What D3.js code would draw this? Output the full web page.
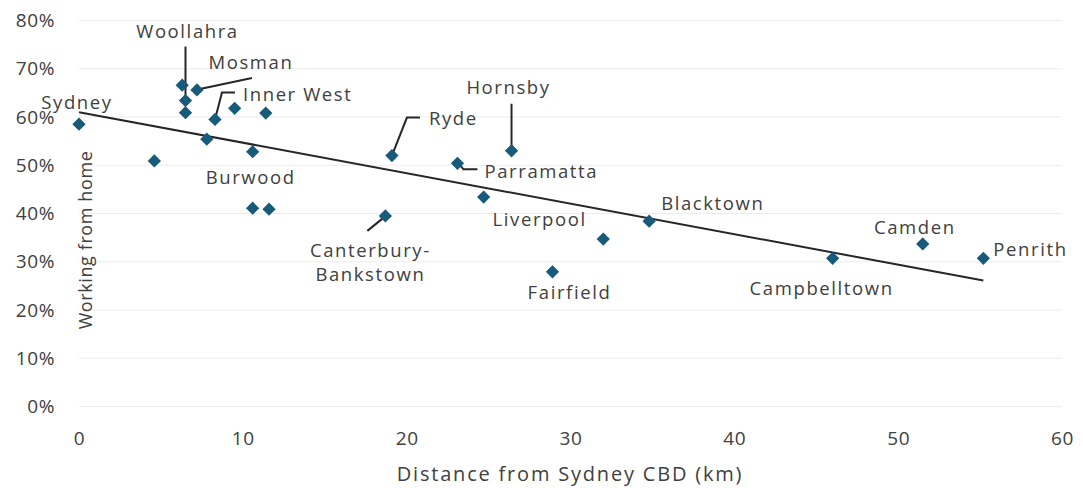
<!DOCTYPE html>
<html>
<head>
<meta charset="utf-8">
<script src="https://cdn.jsdelivr.net/npm/d3@7"></script>
<style>
  body { margin: 0; background: #fff; }
  svg text { font-family: "Open Sans", Lato, sans-serif; fill: #404040; }
  .axis .domain { display: none; }
  .axis line { stroke: #ececec; }
</style>
</head>
<body>
<div id="chart"></div>
<script>
// council areas, distance from CBD (km) and share working from home (%)
const areaNames = ['Sydney', '', '', 'Woollahra', '', 'Mosman', '', '', 'Inner West', '',
  'Burwood', '', '', 'Canterbury-Bankstown', 'Ryde', 'Parramatta', 'Hornsby', 'Liverpool',
  '', 'Fairfield', 'Blacktown', 'Campbelltown', 'Camden', 'Penrith'];
const distanceKm = [0, 4.6, 6.3, 6.5, 6.5, 7.2, 9.5, 11.4, 8.3, 7.8,
  10.6, 10.6, 11.6, 18.7, 19.1, 23.1, 26.4, 24.7,
  32.0, 28.9, 34.8, 46.0, 51.5, 55.2];
const wfhPct = [58.4, 50.8, 66.5, 63.3, 60.8, 65.5, 61.7, 60.7, 59.4, 55.3,
  52.7, 41.0, 40.8, 39.4, 51.9, 50.3, 52.9, 43.3,
  34.6, 27.8, 38.3, 30.6, 33.6, 30.6];
// trend line (start and end)
const trendKm = [0, 55.2];
const trendPct = [60.9, 26.0];
const yTicks = [0, 10, 20, 30, 40, 50, 60, 70, 80];
const xTicks = [0, 10, 20, 30, 40, 50, 60];

// label placement, pixel offsets from the marker
const labelLayout = {
  'Sydney':       { dx: -2, dy: -23, anchor: 'middle' },
  'Woollahra':    { dx: 2, dy: -70, anchor: 'middle', lead: [[0, -54], [0, -2]] },
  'Mosman':       { dx: 54, dy: -28, anchor: 'middle', lead: [[3, -1], [55, -12]] },
  'Inner West':   { dx: 28, dy: -26, anchor: 'start', lead: [[0, 0], [7, -27], [20, -27]] },
  'Burwood':      { dx: -2, dy: 25, anchor: 'middle' },
  'Canterbury-Bankstown': { dx: -15, dy: 33, anchor: 'middle', lead: [[-18, 15], [-2, 2]] },
  'Ryde':         { dx: 37, dy: -38, anchor: 'start', lead: [[0, 0], [15, -38], [28, -38]] },
  'Parramatta':   { dx: 27, dy: 7, anchor: 'start', lead: [[2, 1], [6, 6], [20, 6]] },
  'Hornsby':      { dx: -3, dy: -64, anchor: 'middle', lead: [[0, -47], [0, -3]] },
  'Liverpool':    { dx: 56, dy: 21, anchor: 'middle' },
  'Fairfield':    { dx: 17, dy: 20, anchor: 'middle' },
  'Blacktown':    { dx: 12, dy: -19, anchor: 'start' },
  'Campbelltown': { dx: -11, dy: 29, anchor: 'middle' },
  'Camden':       { dx: -8, dy: -17, anchor: 'middle' },
  'Penrith':      { dx: 10, dy: -10, anchor: 'start' }
};

const width = 1083, height = 488;
const svg = d3.select('#chart').append('svg')
  .attr('width', width).attr('height', height);

const x = d3.scaleLinear().domain([0, 60]).range([79, 1062]);
const y = d3.scaleLinear().domain([0, 80]).range([406, 20]);

// gridlines + y labels
const yAxis = svg.append('g')
  .attr('class', 'axis')
  .attr('transform', `translate(${x(0)},0)`)
  .call(d3.axisLeft(y).tickValues(yTicks).tickFormat(d => d + '%')
    .tickSize(-(x(60) - x(0))).tickPadding(24));
yAxis.selectAll('text')
  .attr('font-size', 19).attr('letter-spacing', 0.6)
  .attr('dy', '0.35em');

const xAxis = svg.append('g')
  .attr('class', 'axis')
  .attr('transform', `translate(0,${y(0)})`)
  .call(d3.axisBottom(x).tickValues(xTicks).tickSize(0).tickPadding(26));
xAxis.selectAll('text').attr('font-size', 19).attr('letter-spacing', 0.6);

svg.append('text')
  .attr('x', 570).attr('y', 473)
  .attr('text-anchor', 'middle').attr('dominant-baseline', 'central')
  .attr('font-size', 20).attr('letter-spacing', 1.8)
  .text('Distance from Sydney CBD (km)');

svg.append('text')
  .attr('transform', 'translate(85,240) rotate(-90)')
  .attr('text-anchor', 'middle').attr('dominant-baseline', 'central')
  .attr('font-size', 18).attr('letter-spacing', 0.6)
  .text('Working from home');

const points = areaNames.map((name, i) => ({ name, km: distanceKm[i], pct: wfhPct[i] }));

// trend
const line = d3.line().x(d => x(d[0])).y(d => y(d[1]));
svg.append('path')
  .datum(trendKm.map((k, i) => [k, trendPct[i]]))
  .attr('fill', 'none')
  .attr('stroke', '#262626')
  .attr('stroke-width', 2)
  .attr('d', line);

// leader lines
const labelled = points.filter(d => d.name && labelLayout[d.name]);
svg.append('g').selectAll('path')
  .data(labelled.filter(d => labelLayout[d.name].lead))
  .join('path')
  .attr('fill', 'none')
  .attr('stroke', '#262626')
  .attr('stroke-width', 2)
  .attr('d', d => d3.line()(labelLayout[d.name].lead.map(p => [x(d.km) + p[0], y(d.pct) + p[1]])));

// markers
const diamond = d3.symbol().type(d3.symbolSquare).size(88);
svg.append('g').selectAll('path')
  .data(points)
  .join('path')
  .attr('fill', '#175a7a')
  .attr('transform', d => `translate(${x(d.km)},${y(d.pct)}) rotate(45)`)
  .attr('d', diamond);

// labels (Canterbury-Bankstown wraps onto two lines)
const labels = svg.append('g').selectAll('text')
  .data(labelled)
  .join('text')
  .attr('x', d => x(d.km) + labelLayout[d.name].dx)
  .attr('y', d => y(d.pct) + labelLayout[d.name].dy)
  .attr('text-anchor', d => labelLayout[d.name].anchor)
  .attr('dominant-baseline', 'central')
  .attr('font-size', 18.5)
  .attr('letter-spacing', 1.6);

labels.each(function(d){
  const t = d3.select(this);
  if (d.name === 'Canterbury-Bankstown'){
    t.append('tspan').attr('x', x(d.km) + labelLayout[d.name].dx).text('Canterbury-');
    t.append('tspan').attr('x', x(d.km) + labelLayout[d.name].dx).attr('dy', 24).text('Bankstown');
  } else {
    t.text(d.name);
  }
});
</script>
</body>
</html>
